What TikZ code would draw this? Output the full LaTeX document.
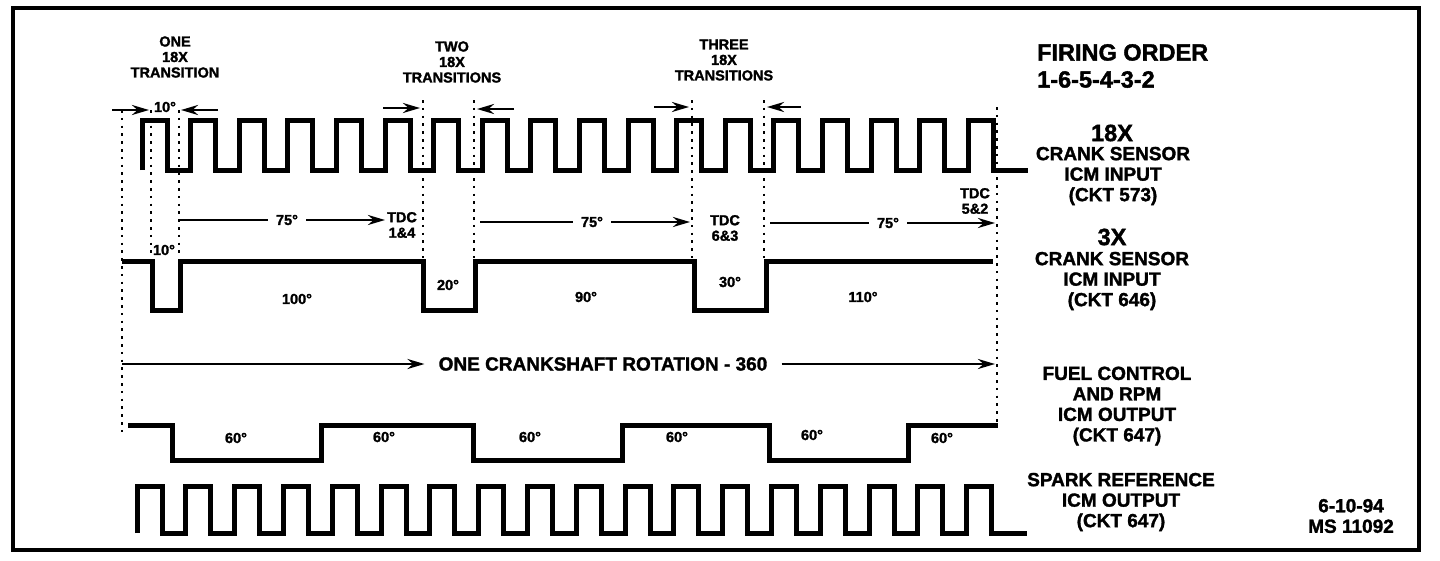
\documentclass[tikz,border=0pt]{standalone}
\usepackage{fontspec}
\setmainfont{Liberation Sans}[BoldFeatures={FakeBold=1.6}]
\usetikzlibrary{arrows.meta}
\begin{document}
\begin{tikzpicture}[x=1pt,y=-1pt,
  wave/.style={line width=5pt, line join=miter},
  dots/.style={line width=2.6pt, dash pattern=on 2.6pt off 5.2pt},
  arr/.style={line width=2.5pt, -{Stealth[length=17pt,width=10pt]}},
  plain/.style={line width=2.5pt},
  sm/.style={font=\fontsize{14.5}{15.5}\selectfont\bfseries, align=center, inner sep=0pt},
  md/.style={font=\fontsize{19}{20.5}\selectfont\bfseries, align=center, inner sep=0pt},
  big/.style={font=\fontsize{23.5}{27}\selectfont\bfseries, inner sep=0pt},
  gap/.style={inner xsep=8pt, inner ysep=0pt},
]
\useasboundingbox (0,0) rectangle (1440,560);
\fill[white] (0,0) rectangle (1440,560);
\draw[line width=4pt] (13,8) rectangle (1419,550);

% ---------- 18X waveform ----------
\draw[wave] (142,170) \foreach \k in {0,...,17} {
   -- ({142+\k*48.6},170) -- ({142+\k*48.6},120) -- ({167+\k*48.6},120) -- ({167+\k*48.6},170) } -- (1028,170);

% ---------- 3X waveform ----------
\draw[wave] (122,261) -- (152,261) -- (152,310) -- (180,310) -- (180,261)
  -- (423,261) -- (423,310) -- (475,310) -- (475,261)
  -- (694,261) -- (694,310) -- (766,310) -- (766,261) -- (993,261);

% ---------- fuel control waveform ----------
\draw[wave] (128,425) -- (172,425) -- (172,460) -- (321,460) -- (321,425)
  -- (473,425) -- (473,460) -- (622,460) -- (622,425)
  -- (769,425) -- (769,460) -- (908,460) -- (908,425) -- (998,425);

% ---------- spark reference waveform ----------
\draw[wave] (137,533) \foreach \k in {0,...,17} {
   -- ({137+\k*48.8},533) -- ({137+\k*48.8},486) -- ({162+\k*48.8},486) -- ({162+\k*48.8},533) } -- (1027,533);

% ---------- dotted guide lines ----------
\coordinate (d0t) at (122,110); \coordinate (d0b) at (122,437);
\coordinate (d1t) at (151,110); \coordinate (d1b) at (151,258);
\coordinate (d2t) at (179,110); \coordinate (d2b) at (179,258);
\coordinate (d3t) at (423,100); \coordinate (d3b) at (423,258);
\coordinate (d4t) at (474,100); \coordinate (d4b) at (474,258);
\coordinate (d5t) at (692,100); \coordinate (d5b) at (692,258);
\coordinate (d6t) at (764,100); \coordinate (d6b) at (764,258);
\coordinate (d7t) at (997,107); \coordinate (d7b) at (997,424);
\foreach \i in {0,...,7} { \draw[dots] (d\i t) -- (d\i b); }

% ---------- top window arrows ----------
\coordinate (a1s) at (112,110); \coordinate (a1e) at (149,110);
\coordinate (a2s) at (218,110); \coordinate (a2e) at (181,110);
\coordinate (a3s) at (383,108); \coordinate (a3e) at (420,108);
\coordinate (a4s) at (514,109); \coordinate (a4e) at (477,109);
\coordinate (a5s) at (654,107); \coordinate (a5e) at (689,107);
\coordinate (a6s) at (801,107); \coordinate (a6e) at (767,107);
\foreach \i in {1,...,6} { \draw[arr] (a\i s) -- (a\i e); }
\node[sm] (ten1) at (165,107) {10°};

\node[sm] (one) at (175,57) {ONE\\18X\\TRANSITION};
\node[sm] (two) at (452,62) {TWO\\18X\\TRANSITIONS};
\node[sm] (three) at (724,60) {THREE\\18X\\TRANSITIONS};

% ---------- 75 degree arrows ----------
\node[sm,gap] (s1) at (287,220) {75°};
\coordinate (s1a) at (180,220); \coordinate (s1b) at (385,220);
\draw[plain] (s1a) -- (s1.west); \draw[arr] (s1.east) -- (s1b);
\node[sm] (tdc14) at (402,225) {TDC\\1\&4};

\node[sm,gap] (s2) at (592,222) {75°};
\coordinate (s2a) at (480,222); \coordinate (s2b) at (690,222);
\draw[plain] (s2a) -- (s2.west); \draw[arr] (s2.east) -- (s2b);
\node[sm] (tdc63) at (725,228) {TDC\\6\&3};

\node[sm,gap] (s3) at (888,223) {75°};
\coordinate (s3a) at (770,223); \coordinate (s3b) at (995,223);
\draw[plain] (s3a) -- (s3.west); \draw[arr] (s3.east) -- (s3b);
\node[sm] (tdc52) at (975,201) {TDC\\5\&2};

% ---------- 3X labels ----------
\node[sm] (ten2) at (164,250) {10°};
\node[sm] (w100) at (297,299) {100°};
\node[sm] (w20) at (448,285) {20°};
\node[sm] (w90) at (586,297) {90°};
\node[sm] (w30) at (730,282) {30°};
\node[sm] (w110) at (863,297) {110°};

% ---------- crankshaft rotation ----------
\node[font=\fontsize{19}{21}\selectfont\bfseries, inner xsep=14pt, inner ysep=0pt] (rot) at (603,364) {ONE CRANKSHAFT ROTATION - 360};
\coordinate (r0) at (122,364); \coordinate (r1) at (995,364);
\draw[arr] (r0) -- (rot.west);
\draw[arr] (rot.east) -- (r1);

% ---------- fuel 60 degree labels ----------
\node[sm] (f1) at (236,438) {60°};
\node[sm] (f2) at (384,437) {60°};
\node[sm] (f3) at (530,437) {60°};
\node[sm] (f4) at (677,437) {60°};
\node[sm] (f5) at (812,435) {60°};
\node[sm] (f6) at (942,438) {60°};

% ---------- right-hand labels ----------
\node[big, anchor=west, align=left] (fo) at (1037,66) {FIRING ORDER\\1-6-5-4-3-2};
\node[big] (x18) at (1112,133) {18X};
\node[md] (l18) at (1113,176) {CRANK SENSOR\\ICM INPUT\\(CKT 573)};
\node[big] (x3) at (1112,237) {3X};
\node[md] (l3) at (1112,281) {CRANK SENSOR\\ICM INPUT\\(CKT 646)};
\node[md] (lf) at (1117,406) {FUEL CONTROL\\AND RPM\\ICM OUTPUT\\(CKT 647)};
\node[md] (ls) at (1121,502) {SPARK REFERENCE\\ICM OUTPUT\\(CKT 647)};
\node[md] (date) at (1351,516) {6-10-94\\MS 11092};
\end{tikzpicture}
\end{document}
